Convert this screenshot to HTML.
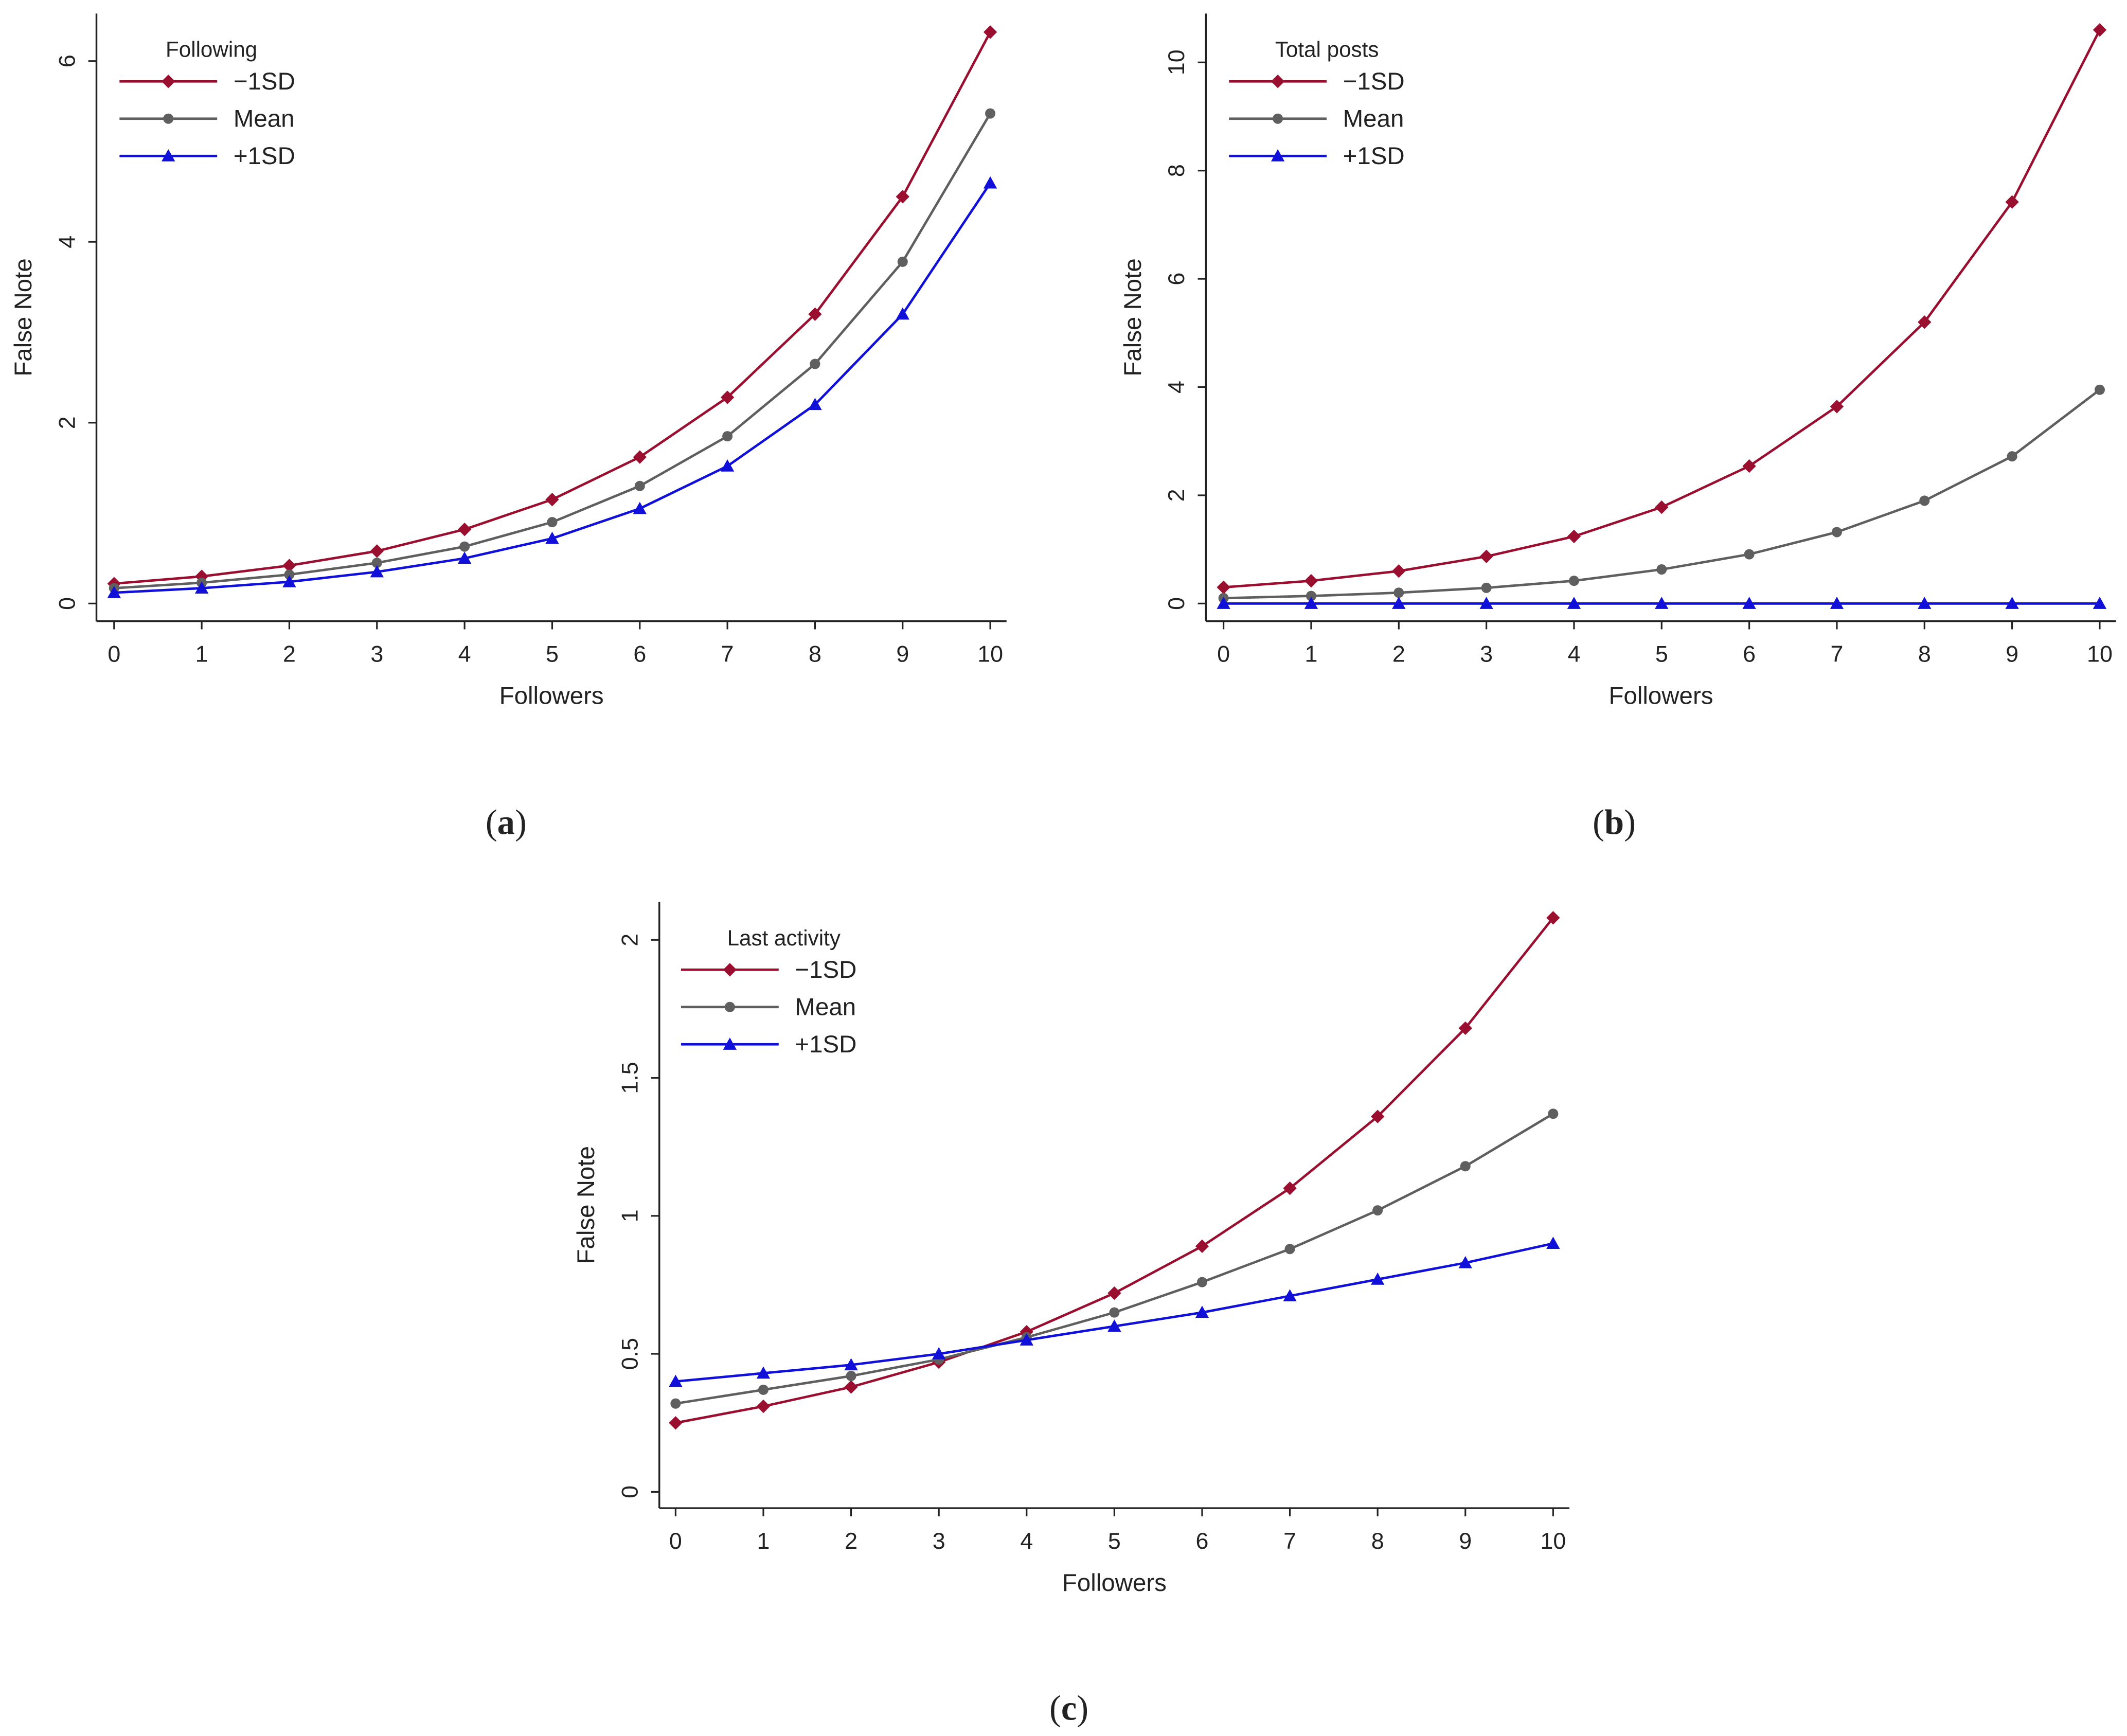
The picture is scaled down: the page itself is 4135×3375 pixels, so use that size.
<!DOCTYPE html>
<html><head><meta charset="utf-8"><style>
html,body{margin:0;padding:0;background:#fff;}
svg{display:block;}
text{font-family:"Liberation Sans",sans-serif;fill:#222;}
</style></head><body>
<svg id="chart" width="4135" height="3375" viewBox="0 0 1568 1280" xmlns="http://www.w3.org/2000/svg"></svg>
<script>
const xCats=[0,1,2,3,4,5,6,7,8,9,10];
const aMinus=[0.22,0.3,0.42,0.58,0.82,1.15,1.62,2.28,3.2,4.5,6.32];
const aMean=[0.17,0.23,0.32,0.45,0.63,0.9,1.3,1.85,2.65,3.78,5.42];
const aPlus=[0.12,0.17,0.24,0.35,0.5,0.72,1.05,1.52,2.2,3.2,4.65];
const bMinus=[0.3,0.42,0.6,0.87,1.24,1.78,2.54,3.64,5.2,7.42,10.6];
const bMean=[0.1,0.14,0.2,0.29,0.42,0.63,0.91,1.32,1.9,2.72,3.95];
const bPlus=[0,0,0,0,0,0,0,0,0,0,0];
const cMinus=[0.25,0.31,0.38,0.47,0.58,0.72,0.89,1.1,1.36,1.68,2.08];
const cMean=[0.32,0.37,0.42,0.48,0.56,0.65,0.76,0.88,1.02,1.18,1.37];
const cPlus=[0.4,0.43,0.46,0.5,0.55,0.6,0.65,0.71,0.77,0.83,0.9];
const aTicks=[0,2,4,6];
const bTicks=[0,2,4,6,8,10];
const cTicks=["0","0.5","1","1.5","2"];
const seriesLabels=["\u22121SD","Mean","+1SD"];

const NS="http://www.w3.org/2000/svg";
const svg=document.getElementById('chart');
function mk(tag,attrs,parent,text){const e=document.createElementNS(NS,tag);for(const k in attrs)e.setAttribute(k,attrs[k]);if(text!==undefined)e.textContent=text;(parent||svg).appendChild(e);return e;}
const COL=["#9a0f30","#5f5f5f","#1010d8"];

function marker(g,kind,x,y,c){
  let m;
  if(kind===0)m=mk('polygon',{points:`${x},${y-5} ${x+5},${y} ${x},${y+5} ${x-5},${y}`,fill:c},g);
  else if(kind===1)m=mk('circle',{cx:x,cy:y,r:3.8,fill:c},g);
  else m=mk('polygon',{points:`${x},${y-5} ${x+5},${y+4} ${x-5},${y+4}`,fill:c},g);
  
  
}

function panel(id,cfg){
  const g=mk('g',{},svg);
  
  
  const sx=v=>cfg.x0+(cfg.x10-cfg.x0)*v/10;
  const sy=v=>cfg.y0-(cfg.y0-cfg.yTop)*v/cfg.yMax;
  let l=mk('line',{x1:cfg.ax,y1:cfg.axTop,x2:cfg.ax,y2:cfg.axB,stroke:'#222','stroke-width':1.3},g);
  
  l=mk('line',{x1:cfg.ax,y1:cfg.axB,x2:cfg.axR,y2:cfg.axB,stroke:'#222','stroke-width':1.3},g);
  
  xCats.forEach(v=>{
    mk('line',{x1:sx(v),y1:cfg.axB,x2:sx(v),y2:cfg.axB+6,stroke:'#222','stroke-width':1.2},g);
    const t=mk('text',{x:sx(v),y:cfg.axB+30,'text-anchor':'middle','font-size':17},g,String(v));
    
  });
  cfg.ticks.forEach(s=>{
    const y=sy(parseFloat(s));
    mk('line',{x1:cfg.ax-6,y1:y,x2:cfg.ax,y2:y,stroke:'#222','stroke-width':1.2},g);
    const t=mk('text',{x:cfg.ax-16,y:y,'text-anchor':'middle','font-size':17,transform:`rotate(-90 ${cfg.ax-16} ${y})`},g,String(s));
    
  });
  let t=mk('text',{x:(cfg.ax+cfg.axR)/2,y:cfg.axB+61,'text-anchor':'middle','font-size':18},g,'Followers');
  
  const yc=(cfg.axTop+cfg.axB)/2, xt=cfg.ax-48;
  t=mk('text',{x:xt,y:yc,'text-anchor':'middle','font-size':18,transform:`rotate(-90 ${xt} ${yc})`},g,'False Note');
  
  cfg.series.forEach((arr,k)=>{
    const pts=arr.map((v,i)=>sx(xCats[i])+','+sy(v)).join(' ');
    const p=mk('polyline',{points:pts,fill:'none',stroke:COL[k],'stroke-width':1.8},g);
    
    
    arr.forEach((v,i)=>marker(g,k,sx(xCats[i]),sy(v),COL[k]));
  });
  const lg=mk('g',{},g);
  
  t=mk('text',{x:cfg.lx+34,y:cfg.ly-18,'font-size':16},lg,cfg.title);
  
  seriesLabels.forEach((s,k)=>{
    const y=cfg.ly+k*27.5;
    mk('line',{x1:cfg.lx,y1:y,x2:cfg.lx+72,y2:y,stroke:COL[k],'stroke-width':1.8},lg);
    marker(lg,k,cfg.lx+36,y,COL[k]);
    const e=mk('text',{x:cfg.lx+84,y:y+6,'font-size':18},lg,s);
    
  });
  t=mk('text',{x:cfg.lab[0],y:cfg.lab[1],'text-anchor':'middle','font-size':26,style:'font-family:"Liberation Serif",serif'},g);
  
  t.appendChild(document.createTextNode('('));
  mk('tspan',{'font-weight':'bold'},t,id);
  t.appendChild(document.createTextNode(')'));
}

panel('a',{x0:84,x10:730,y0:445,yTop:45,yMax:6,ax:71,axTop:10,axB:458,axR:742,ticks:aTicks.map(String),series:[aMinus,aMean,aPlus],title:'Following',lx:88,ly:60,lab:[373,615]});
panel('b',{x0:902,x10:1548,y0:445,yTop:46,yMax:10,ax:889,axTop:10,axB:458,axR:1560,ticks:bTicks.map(String),series:[bMinus,bMean,bPlus],title:'Total posts',lx:906,ly:60,lab:[1190,615]});
panel('c',{x0:498,x10:1145,y0:1100,yTop:693,yMax:2,ax:486,axTop:665,axB:1112,axR:1157,ticks:cTicks,series:[cMinus,cMean,cPlus],title:'Last activity',lx:502,ly:715,lab:[788,1268]});
</script>
</body></html>
